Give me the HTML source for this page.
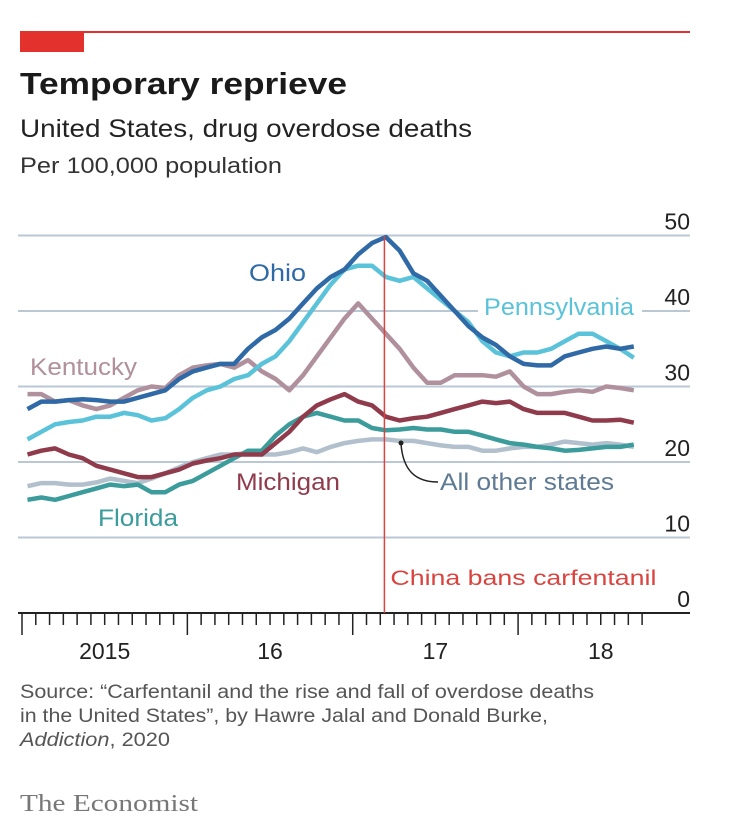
<!DOCTYPE html>
<html><head><meta charset="utf-8"><style>
body{margin:0;background:#fff;width:732px;height:830px;overflow:hidden;font-family:"Liberation Sans",sans-serif;}
svg{display:block}
</style></head><body>
<svg width="732" height="830">
<rect x="20" y="31" width="670" height="2" fill="#e3312d"/>
<rect x="20" y="31" width="64" height="21" fill="#e3312d"/>
<text x="20" y="94" font-size="31" font-weight="bold" fill="#1a1a1a" textLength="327" lengthAdjust="spacingAndGlyphs">Temporary reprieve</text>
<text x="20" y="137" font-size="25" fill="#222" textLength="452" lengthAdjust="spacingAndGlyphs">United States, drug overdose deaths</text>
<text x="20" y="173" font-size="22" fill="#333" textLength="262" lengthAdjust="spacingAndGlyphs">Per 100,000 population</text>
<g id="grid"></g>
<g id="xaxis"></g>
<g id="series"></g>
<g id="labels"></g>
<text x="20" y="698" font-size="19" fill="#555" textLength="574" lengthAdjust="spacingAndGlyphs">Source: “Carfentanil and the rise and fall of overdose deaths</text>
<text x="20" y="722" font-size="19" fill="#555" textLength="528" lengthAdjust="spacingAndGlyphs">in the United States”, by Hawre Jalal and Donald Burke,</text>
<text x="20" y="746" font-size="19" fill="#555" textLength="150" lengthAdjust="spacingAndGlyphs"><tspan font-style="italic">Addiction</tspan>, 2020</text>
<text x="20" y="811" font-size="24" fill="#777" font-family="Liberation Serif, serif" textLength="178" lengthAdjust="spacingAndGlyphs">The Economist</text>
</svg>
<script>
const yTicks=[0,10,20,30,40,50];
const yearLabels=["2015","16","17","18"];
const ohio=[27,28,28,28.2,28.3,28.2,28,28,28.5,29,29.5,31,32,32.5,33,33,35,36.5,37.5,39,41,43,44.5,45.5,47.5,49,49.8,48,45,44,42,40,38,36.5,35.5,34,33,32.8,32.8,34,34.5,35,35.3,35,35.3];
const penn=[23,24,25,25.3,25.5,26,26,26.5,26.2,25.5,25.8,27,28.5,29.5,30,31,31.5,33,34,36,38.5,41,43.5,45.5,46,46,44.5,44,44.5,43,41.5,40,38.5,36,34.5,34,34.5,34.5,35,36,37,37,36,35,33.8];
const kentucky=[29,29,28,28.2,27.5,27,27.5,28.5,29.5,30,29.8,31.5,32.5,32.8,33,32.5,33.5,32,31,29.5,31.5,34,36.5,39,41,39,37,35,32.5,30.5,30.5,31.5,31.5,31.5,31.3,32,30,29,29,29.3,29.5,29.3,30,29.8,29.5];
const michigan=[21,21.5,21.8,21,20.5,19.5,19,18.5,18,18,18.5,19,19.8,20.2,20.5,21,21,21,22.5,24,26,27.5,28.3,29,28,27.5,26,25.5,25.8,26,26.5,27,27.5,28,27.8,28,27,26.5,26.5,26.5,26,25.5,25.5,25.6,25.2];
const florida=[15,15.3,15,15.5,16,16.5,17,16.8,17,16,16,17,17.5,18.5,19.5,20.5,21.5,21.5,23.5,25,26,26.5,26,25.5,25.5,24.5,24.2,24.3,24.5,24.3,24.3,24,24,23.5,23,22.5,22.3,22,21.8,21.5,21.6,21.8,22,22,22.3];
const others=[16.8,17.2,17.2,17,17,17.3,17.8,17.5,17.2,17.8,18.5,19.3,20,20.5,21,21,21.2,21,21,21.3,21.8,21.3,22,22.5,22.8,23,23,22.8,22.8,22.5,22.2,22,22,21.5,21.5,21.8,22,22,22.3,22.7,22.5,22.3,22.5,22.3,22];
const banMonth=26.3;

const NS="http://www.w3.org/2000/svg";
const X0=22,MW=13.78,Y0=613,YU=7.55;
const xM=m=>X0+MW*m;
const xI=i=>xM(i+0.4);
const yV=v=>Y0-YU*v;
function mk(tag,attrs,parent){const e=document.createElementNS(NS,tag);for(const k in attrs)e.setAttribute(k,attrs[k]);parent.appendChild(e);return e;}
const grid=document.getElementById('grid'),xa=document.getElementById('xaxis'),ser=document.getElementById('series'),lab=document.getElementById('labels');

yTicks.forEach(t=>{
  if(t>0){const l=mk('line',{x1:18,x2:690,y1:yV(t),y2:yV(t),stroke:'#b9c8d4','stroke-width':2},grid);
  
  }
  const tx=mk('text',{x:690,y:yV(t)-6,'text-anchor':'end','font-size':23,fill:'#222'},grid);
  tx.textContent=t;
  
  
});

const ax=mk('line',{x1:18,x2:690,y1:Y0,y2:Y0,stroke:'#222','stroke-width':2},xa);


for(let m=0;m<=45;m++){
  const major=m%12===0;
  const t=mk('line',{x1:xM(m),x2:xM(m),y1:Y0,y2:Y0+(major?22:12),stroke:'#222','stroke-width':1.5},xa);
  
  
}
yearLabels.forEach((s,k)=>{
  const t=mk('text',{x:xM(k*12+6),y:Y0+46,'text-anchor':'middle','font-size':23,fill:'#222'},xa);
  t.textContent=s;
  
  
});

const series=[[others,'#b2c0cd','all-other-states-line'],[florida,'#3c9c9c','florida-line'],[michigan,'#903b4c','michigan-line'],[kentucky,'#b0909c','kentucky-line'],[penn,'#5bc3d9','pennsylvania-line'],[ohio,'#2f69a6','ohio-line']];
series.forEach(([d,c,n])=>{
  const p=mk('polyline',{points:d.map((v,i)=>xI(i).toFixed(1)+','+yV(v).toFixed(1)).join(' '),fill:'none',stroke:c,'stroke-width':4.5,'stroke-linejoin':'round'},ser);
  
  
});

const bx=xM(banMonth);
const bl=mk('line',{x1:bx,x2:bx,y1:236,y2:Y0,stroke:'#d9443f','stroke-width':1.5},lab);


const bt=mk('text',{x:bx+6,y:585,'font-size':21,fill:'#d9443f',textLength:266,lengthAdjust:'spacingAndGlyphs'},lab);
bt.textContent='China bans carfentanil';



const cl=mk('path',{d:'M401,444 C403,470 415,482 438,482',fill:'none',stroke:'#222','stroke-width':1.5},lab);


const cd=mk('circle',{cx:401,cy:443,r:2.5,fill:'#222'},lab);



const pr=mk('rect',{x:478,y:296,width:164,height:28,fill:'#fff'},lab);


const names=[['Ohio',249,281,'#2f69a6','ohio-label',57],['Pennsylvania',484,315,'#5bc3d9','pennsylvania-label',150],['Kentucky',30,375,'#b0909c','kentucky-label',107],['Michigan',236,490,'#903b4c','michigan-label',104],['All other states',440,490,'#5f7a93','all-other-states-label',174],['Florida',98,526,'#3c9c9c','florida-label',80]];
names.forEach(([s,x,y,c,n,w])=>{
  const t=mk('text',{x:x,y:y,'font-size':24,fill:c,textLength:w,lengthAdjust:'spacingAndGlyphs'},lab);
  t.textContent=s;
  
  
});
</script>
</body></html>
